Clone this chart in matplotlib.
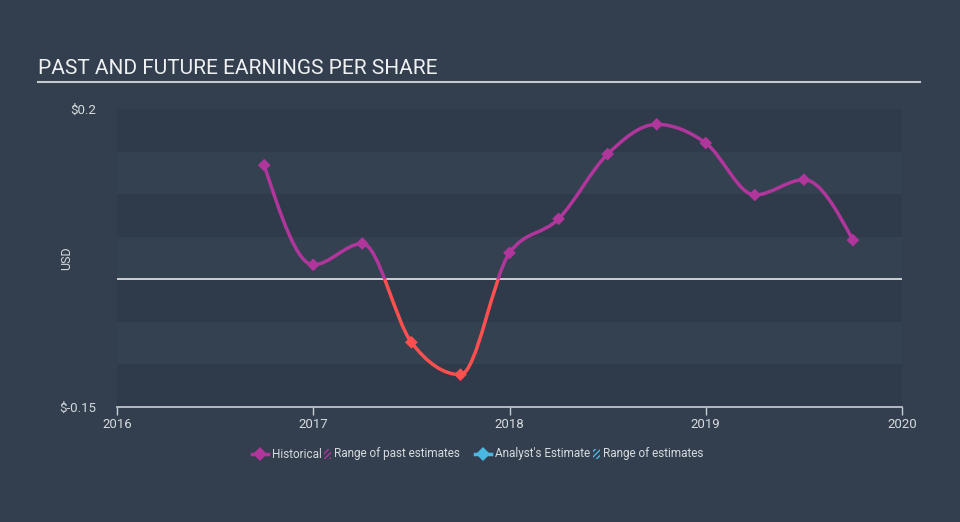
import numpy as np
import matplotlib.pyplot as plt
from matplotlib.path import Path
from matplotlib.patches import PathPatch, Rectangle
from matplotlib.lines import Line2D

plt.rcParams['font.family'] = ['Roboto', 'DejaVu Sans']

# Data
#-----------------------------------------------------------------------------------
dates = [2016.75, 2017.0, 2017.25, 2017.5, 2017.75, 2018.0, 2018.25,
         2018.5, 2018.75, 2019.0, 2019.25, 2019.5, 2019.75]
eps = [0.134, 0.017, 0.042, -0.074, -0.112, 0.031, 0.071,
       0.147, 0.182, 0.160, 0.099, 0.117, 0.046]
year_ticks = [2016, 2017, 2018, 2019, 2020]
y_ticks = [0.2, -0.15]
y_tick_labels = ["$0.2", "$-0.15"]
#-----------------------------------------------------------------------------------

BG = "#333f4e"
DARK_BAND = "#2f3b4a"
LIGHT_BAND = "#344150"
PURPLE = "#b0369c"
RED = "#ff4f4f"
BLUE = "#4ab8e0"
TEXT = "#d6dade"


def monotone_path(x, y):
    # cubic bezier path like d3.curveMonotoneX
    x = np.asarray(x, float)
    y = np.asarray(y, float)
    n = len(x)
    h = np.diff(x)
    s = np.diff(y) / h
    t = np.zeros(n)
    for i in range(1, n - 1):
        p = (s[i - 1] * h[i] + s[i] * h[i - 1]) / (h[i - 1] + h[i])
        t[i] = (np.sign(s[i - 1]) + np.sign(s[i])) * min(abs(s[i - 1]), abs(s[i]), 0.5 * abs(p))
    t[0] = (3 * s[0] - t[1]) / 2
    t[-1] = (3 * s[-1] - t[-2]) / 2
    verts = [(x[0], y[0])]
    codes = [Path.MOVETO]
    for i in range(n - 1):
        dx = h[i] / 3
        verts += [(x[i] + dx, y[i] + dx * t[i]),
                  (x[i + 1] - dx, y[i + 1] - dx * t[i + 1]),
                  (x[i + 1], y[i + 1])]
        codes += [Path.CURVE4] * 3
    return Path(verts, codes)


fig = plt.figure(figsize=(9.6, 5.22), dpi=100, facecolor=BG)
ax = fig.add_axes([117 / 960, 1 - 407 / 522, 785 / 960, 298 / 522])
ax.set_facecolor(BG)
ax.set_xlim(2016, 2020)
ax.set_ylim(-0.15, 0.2)

# stripes
edges = np.arange(-0.15, 0.2001, 0.05)
for i in range(len(edges) - 1):
    ax.axhspan(edges[i], edges[i + 1], color=DARK_BAND if i % 2 == 0 else LIGHT_BAND, lw=0, zorder=0)

ax.axhline(0, color="#e6e8ea", lw=1.2, zorder=2)

path = monotone_path(dates, eps)
for color, y0, y1 in [(PURPLE, 0, 1), (RED, -1, 0)]:
    patch = PathPatch(path, facecolor="none", edgecolor=color, lw=2.5, zorder=3, capstyle="round")
    ax.add_patch(patch)
    clip = Rectangle((2015, y0), 10, y1 - y0, transform=ax.transData)
    patch.set_clip_path(clip)

colors = [PURPLE if v >= 0 else RED for v in eps]
ax.scatter(dates, eps, marker="D", s=42, c=colors, zorder=4, linewidths=0)

for s in ["top", "right", "left"]:
    ax.spines[s].set_visible(False)
ax.spines["bottom"].set_color("#c9ced4")
ax.spines["bottom"].set_linewidth(1.2)

ax.set_xticks(year_ticks)
ax.set_xticklabels([str(y) for y in year_ticks])
ax.tick_params(axis="x", colors="#c9ced4", length=6, width=1, labelcolor=TEXT, labelsize=9.5, pad=2)
ax.set_yticks(y_ticks)
ax.set_yticklabels(y_tick_labels)
ax.tick_params(axis="y", length=0, labelcolor=TEXT, labelsize=9.5, pad=15)
ax.set_ylabel("USD", color=TEXT, fontsize=9)
ax.yaxis.set_label_coords(-44 / 785, 0.5)

# Title
fig.text(38 / 960, 1 - 69 / 522, "PAST AND FUTURE EARNINGS PER SHARE", color="#eef0f2",
         fontsize=15, va="center", ha="left")
fig.add_artist(Line2D([38 / 960, 920 / 960], [1 - 81.5 / 522] * 2, color="#c3c8ce", lw=1.5))

# Legend
ly = 1 - 454 / 522
fig.add_artist(Line2D([252 / 960, 268 / 960], [ly, ly], color=PURPLE, lw=2.5))
fig.add_artist(Line2D([260 / 960], [ly], color=PURPLE, marker="D", markersize=7, markeredgewidth=0))
fig.text(272 / 960, ly, "Historical", color=TEXT, fontsize=8.5, va="center")
plt.rcParams['hatch.linewidth'] = 1.0
fig.add_artist(Rectangle((324 / 960, ly - 5 / 522), 7 / 960, 10 / 522, transform=fig.transFigure,
                         facecolor="none", edgecolor=PURPLE, hatch="//////", lw=0))
fig.text(334 / 960, ly, "Range of past estimates", color=TEXT, fontsize=8.5, va="center")

fig.add_artist(Line2D([475 / 960, 491 / 960], [ly, ly], color=BLUE, lw=2.5))
fig.add_artist(Line2D([483 / 960], [ly], color=BLUE, marker="D", markersize=7, markeredgewidth=0))
fig.text(495 / 960, ly, "Analyst's Estimate", color=TEXT, fontsize=8.5, va="center")
fig.add_artist(Rectangle((593 / 960, ly - 5 / 522), 7 / 960, 10 / 522, transform=fig.transFigure,
                         facecolor="none", edgecolor=BLUE, hatch="//////", lw=0))
fig.text(603 / 960, ly, "Range of estimates", color=TEXT, fontsize=8.5, va="center")

plt.savefig("out.png", dpi=100, facecolor=BG)
